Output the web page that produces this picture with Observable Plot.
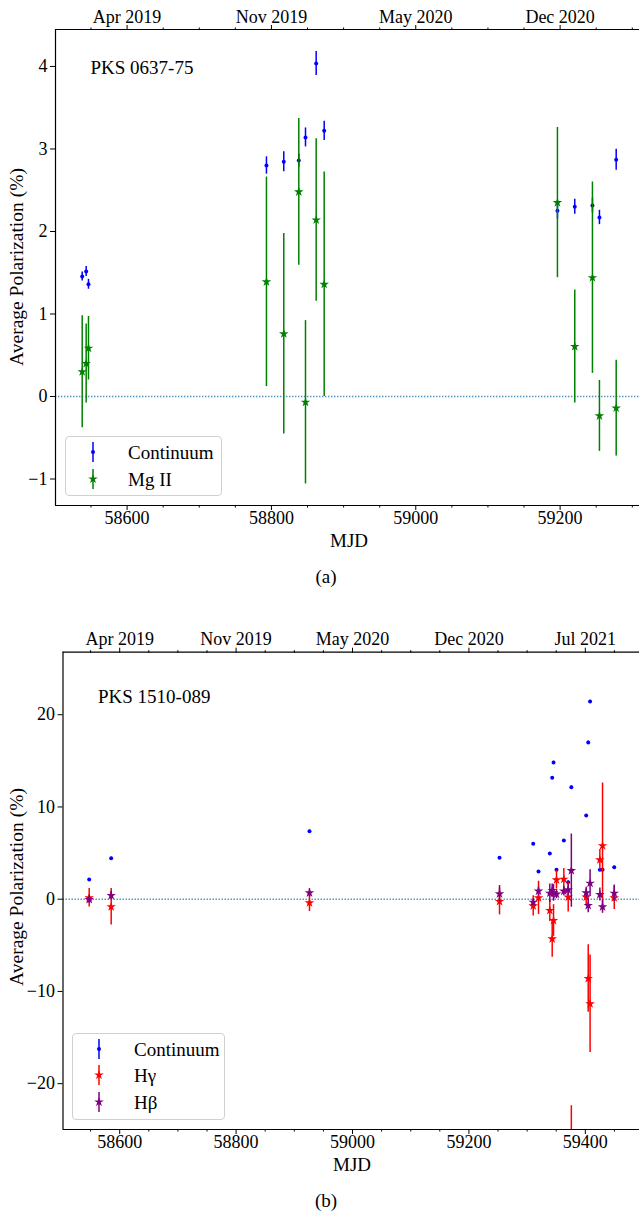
<!DOCTYPE html>
<html><head><meta charset="utf-8">
<script src="https://cdn.jsdelivr.net/npm/d3@7"></script>
<script src="https://cdn.jsdelivr.net/npm/@observablehq/plot@0.6"></script>
<style>
body{margin:0;background:#fff;overflow:hidden;}
#wrap{position:relative;width:639px;height:1215px;overflow:hidden;font-family:"Liberation Serif",serif;color:#000;}
.abs{position:absolute;white-space:nowrap;line-height:1;}
.panel{position:absolute;left:0;}
.legend{position:absolute;border:1px solid #d0d0d0;border-radius:4px;background:rgba(255,255,255,0.85);box-sizing:border-box;}
.legend .row{position:absolute;left:0;height:22px;display:flex;align-items:center;}
</style></head><body><div id="wrap"></div>
<script>
// ---------- Panel (a): PKS 0637-75 ----------
const mjdA = [58537.8, 58543.3, 58546.5, 58793.1, 58817.1, 58837.9, 58847.2, 58862.0, 58873.1, 59196.3, 59220.3, 59244.8, 59254.5, 59277.7];
const contA = [1.455, 1.515, 1.36, 2.80, 2.845, 2.86, 3.14, 4.036, 3.22, 2.25, 2.30, 2.315, 2.17, 2.87];
const contErrA = [0.055, 0.06, 0.06, 0.105, 0.12, 0.08, 0.115, 0.145, 0.117, 0.1, 0.09, 0.09, 0.087, 0.127];
const mg2A = [0.30, 0.40, 0.585, 1.39, 0.76, 2.48, -0.07, 2.14, 1.36, 2.35, 0.606, 1.44, -0.235, -0.14];
const mg2ErrA = [0.68, 0.48, 0.385, 1.27, 1.215, 0.89, 0.99, 0.985, 1.36, 0.91, 0.685, 1.16, 0.43, 0.58];
const yTicksA = [-1, 0, 1, 2, 3, 4];
const majorTicksA = [58600, 58800, 59000, 59200];
const dateLabelsA = ["Apr 2019", "Nov 2019", "May 2020", "Dec 2020"];

// ---------- Panel (b): PKS 1510-089 ----------
const mjdB = [58547.6, 58585.4, 58926.1, 59252.6, 59310.5, 59319.6, 59339.0, 59343.1, 59345.4, 59350.5, 59363.1, 59370.6, 59376.0, 59401.5, 59405.0, 59408.2, 59425.0, 59429.6, 59449.7];
const contB = [2.14, 4.45, 7.36, 4.49, 6.0, 3.0, 4.95, 13.16, 14.82, 3.19, 6.36, 1.84, 12.14, 9.07, 16.99, 21.43, 3.19, 3.19, 3.47];
const contErrB = [0.1, 0.1, 0.12, 0.1, 0.12, 0.1, 0.1, 0.15, 0.15, 0.1, 0.12, 0.1, 0.15, 0.12, 0.15, 0.15, 0.1, 0.1, 0.1];
const hgB = [0.15, -0.82, -0.39, -0.25, -0.72, 0.15, -1.22, -4.3, -2.31, 2.1, 2.17, 0.22, -40, 0.22, -8.6, -11.34, 4.27, 5.8, 0.15];
const hgErrB = [1.0, 1.98, 0.95, 1.45, 1.1, 1.8, 1.2, 2.0, 1.72, 1.0, 1.17, 1.6, 17.6, 0.9, 3.65, 5.28, 1.12, 6.8, 1.26];
const hbB = [-0.03, 0.4, 0.69, 0.58, -0.33, 0.87, 0.65, 0.94, 0.68, 0.55, 0.87, 1.02, 3.1, 0.69, -0.68, 1.73, 0.51, -0.83, 0.65];
const hbErrB = [0.4, 0.45, 0.45, 0.9, 0.36, 0.45, 1.0, 0.7, 0.9, 0.5, 0.5, 0.6, 3.97, 0.6, 0.8, 1.45, 0.7, 0.7, 0.9];
const yTicksB = [-20, -10, 0, 10, 20];
const majorTicksB = [58600, 58800, 59000, 59200, 59400];
const dateLabelsB = ["Apr 2019", "Nov 2019", "May 2020", "Dec 2020", "Jul 2021"];

const FONT = '"Liberation Serif", "Times New Roman", serif';
const COLORS = {cont: "#0000ff", mg2: "#008000", hg: "#ff0000", hb: "#800080"};
const DOT_R = 2, STAR_R = 3;
const TICK_FS = 18;
const minus = d => d < 0 ? "\u2212" + Math.abs(d) : String(d);

function seriesMarks(mjd, vals, errs, color, symbol) {
  const idx = d3.range(mjd.length);
  return [
    Plot.ruleX(idx, {x: i => mjd[i], y1: i => vals[i] - errs[i], y2: i => vals[i] + errs[i],
      stroke: color, strokeWidth: 1.5, clip: true}),
    Plot.dot(idx, {x: i => mjd[i], y: i => vals[i], symbol, r: symbol === "star" ? STAR_R : DOT_R,
      fill: color, stroke: "none", clip: true})
  ];
}

function panel(o) {
  const minors = d3.range(o.xDomain[0] - (o.xDomain[0] % 50) + 50, o.xDomain[1], 50).filter(t => t % 200 !== 0);
  return Plot.plot({
    width: 639, height: o.height,
    marginLeft: o.marginLeft, marginRight: 0, marginTop: o.marginTop, marginBottom: o.marginBottom,
    x: {domain: o.xDomain},
    y: {domain: o.yDomain},
    style: {fontFamily: FONT, fontSize: TICK_FS + "px", color: "#000", background: "transparent", overflow: "visible"},
    marks: [
      Plot.ruleY([0], {stroke: "#1f77b4", strokeWidth: 1.4, strokeDasharray: "1.4,1.6", strokeOpacity: 0.8}),
      ...o.series.flatMap(s => seriesMarks(o.mjd, s.vals, s.errs, s.color, s.symbol)),
      Plot.text([o.name], {frameAnchor: "top-left", dx: o.nameDx, dy: o.nameDy, fontSize: 19, textAnchor: "start", fill: "#000"}),
      Plot.ruleX([o.xDomain[0]], {stroke: "#000", strokeWidth: 1.2}),
      Plot.ruleY(o.yDomain, {stroke: "#000", strokeWidth: 1.2}),
      Plot.axisY({ticks: o.yTicks, tickSize: 5, tickPadding: 3, tickFormat: minus, label: null, fontSize: TICK_FS}),
      Plot.axisX({anchor: "bottom", ticks: o.majors, tickSize: 5, tickPadding: 1, tickFormat: d => String(d), label: null, fontSize: TICK_FS}),
      Plot.axisX({anchor: "bottom", ticks: minors, tickSize: 2.5, tickFormat: () => "", label: null}),
      Plot.axisX({anchor: "top", ticks: o.majors, tickSize: 5, tickPadding: 2, tickFormat: d => o.dateLabels[o.majors.indexOf(d)], label: null, fontSize: TICK_FS}),
      Plot.axisX({anchor: "top", ticks: minors, tickSize: 2.5, tickFormat: () => "", label: null})
    ]
  });
}

const wrap = document.getElementById("wrap");

function place(el, top) { el.classList.add("panel"); el.style.top = top + "px"; wrap.appendChild(el); }
function text(str, x, y, size, rotate) {
  const d = document.createElement("div");
  d.className = "abs"; d.textContent = str; d.style.fontSize = size + "px";
  d.style.left = x + "px"; d.style.top = y + "px";
  d.style.transform = "translate(-50%,-50%)" + (rotate ? " rotate(-90deg)" : "");
  wrap.appendChild(d);
}
function legend(left, top, w, h, entries, rowTops, markerX, textX) {
  const box = document.createElement("div");
  box.className = "legend";
  Object.assign(box.style, {left: left + "px", top: top + "px", width: w + "px", height: h + "px"});
  entries.forEach((e, k) => {
    const row = document.createElement("div");
    row.className = "row";
    row.style.top = (rowTops[k] - 11) + "px";
    const svg = d3.create("svg").attr("width", 20).attr("height", 22)
      .style("position", "absolute").style("left", (markerX - 10) + "px").style("top", "0px");
    svg.append("line").attr("x1", 10).attr("x2", 10).attr("y1", 1).attr("y2", 21).attr("stroke", e.color).attr("stroke-width", 1.5);
    if (e.symbol === "star") {
      svg.append("path").attr("transform", "translate(10,11)")
        .attr("d", d3.symbol(d3.symbolStar, Math.PI * STAR_R * STAR_R)()).attr("fill", e.color);
    } else {
      svg.append("circle").attr("cx", 10).attr("cy", 11).attr("r", DOT_R).attr("fill", e.color);
    }
    row.appendChild(svg.node());
    const t = document.createElement("span");
    t.textContent = e.label;
    Object.assign(t.style, {position: "absolute", left: textX + "px", top: "1px", fontSize: "19px", lineHeight: "22px", whiteSpace: "nowrap"});
    row.appendChild(t);
    box.appendChild(row);
  });
  wrap.appendChild(box);
}

// Panel (a)
const pa = panel({
  mjd: mjdA, height: 550, marginLeft: 55, marginTop: 29, marginBottom: 45,
  xDomain: [58500.8, 59310], yDomain: [-1.321, 4.448], yTicks: yTicksA,
  majors: majorTicksA, dateLabels: dateLabelsA, name: "PKS 0637-75", nameDx: 35, nameDy: 31,
  series: [
    {vals: contA, errs: contErrA, color: COLORS.cont, symbol: "circle"},
    {vals: mg2A, errs: mg2ErrA, color: COLORS.mg2, symbol: "star"}
  ]
});
place(pa, 0);

// Panel (b)
const pb = panel({
  mjd: mjdB, height: 575, marginLeft: 62.5, marginTop: 51.7, marginBottom: 46,
  xDomain: [58502.6, 59493.1], yDomain: [-24.97, 26.78], yTicks: yTicksB,
  majors: majorTicksB, dateLabels: dateLabelsB, name: "PKS 1510-089", nameDx: 35, nameDy: 37,
  series: [
    {vals: contB, errs: contErrB, color: COLORS.cont, symbol: "circle"},
    {vals: hgB, errs: hgErrB, color: COLORS.hg, symbol: "star"},
    {vals: hbB, errs: hbErrB, color: COLORS.hb, symbol: "star"}
  ]
});
place(pb, 600);

// Axis titles and captions
text("Average Polarization (%)", 17, 267, 19.5, true);
text("MJD", 349, 540, 19);
text("(a)", 326, 576, 19);
text("Average Polarization (%)", 17, 887, 19.5, true);
text("MJD", 352, 1164, 19);
text("(b)", 326, 1200, 19);

// Legends
legend(65, 436, 157, 60,
  [{label: "Continuum", color: COLORS.cont, symbol: "circle"}, {label: "Mg II", color: COLORS.mg2, symbol: "star"}],
  [15, 41.5], 27, 62);
legend(72, 1033, 153, 87,
  [{label: "Continuum", color: COLORS.cont, symbol: "circle"}, {label: "H\u03b3", color: COLORS.hg, symbol: "star"}, {label: "H\u03b2", color: COLORS.hb, symbol: "star"}],
  [14.5, 41.3, 68], 26, 61);
</script></body></html>
